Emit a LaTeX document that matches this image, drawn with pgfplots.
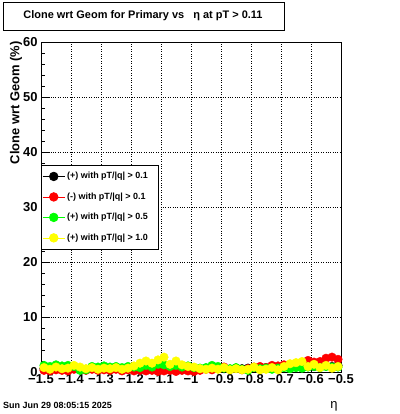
\documentclass[border=0pt]{standalone}
\usepackage{fontspec}
\setmainfont{Liberation Sans}
\usepackage{pgfplots}
\usepackage{pgfplotstable}
\pgfplotsset{compat=1.18}
\pgfplotstableread{
x black red green yellow
-1.49 0.6 0.3 1.2 0.8
-1.47 0.5 0.2 1.0 0.5
-1.45 0.7 0.4 1.3 0.9
-1.43 0.6 0.3 1.1 0.6
-1.41 0.5 0.2 1.2 0.7
-1.39 0.7 0.5 1.0 1.2
-1.37 0.6 0.4 0.3 0.9
-1.35 0.5 0.3 0.4 0.6
-1.33 0.7 0.5 1.0 0.8
-1.31 0.6 0.3 0.9 0.5
-1.29 0.8 0.4 1.1 0.7
-1.27 0.6 0.3 0.9 0.6
-1.25 0.7 0.5 1.0 0.8
-1.23 0.5 0.2 0.8 0.5
-1.21 0.6 0.4 1.0 0.7
-1.19 0.7 0.2 0.9 1.1
-1.17 0.6 0.3 0.8 1.6
-1.15 0.7 0.2 1.2 2.0
-1.13 0.6 0.3 0.9 1.6
-1.11 0.8 0.1 1.4 2.2
-1.09 0.7 0.2 1.3 2.7
-1.07 0.6 0.3 1.0 1.4
-1.05 0.7 0.1 1.2 2.0
-1.03 0.6 0.3 0.9 1.3
-1.01 0.8 0.2 1.1 1.0
-0.99 0.6 0.1 0.8 0.9
-0.97 0.5 0.3 0.7 0.6
-0.95 0.7 0.5 0.8 0.5
-0.93 0.6 0.4 1.2 0.7
-0.91 0.7 0.6 1.0 0.5
-0.89 0.6 0.9 0.7 0.8
-0.87 0.5 0.5 0.6 0.4
-0.85 0.7 0.7 0.8 0.6
-0.83 0.6 0.4 0.5 0.4
-0.81 0.7 0.6 0.3 0.5
-0.79 0.8 0.9 0.8 0.9
-0.77 0.7 1.0 0.6 0.4
-0.75 0.8 0.8 0.7 0.5
-0.73 0.9 1.2 0.5 0.8
-0.71 0.8 1.1 0.7 0.4
-0.69 0.9 1.3 0.8 1.0
-0.67 1.0 1.2 0.6 1.5
-0.65 0.9 1.4 0.8 1.7
-0.63 1.0 1.6 0.7 1.9
-0.61 1.1 2.1 0.9 1.0
-0.59 1.0 1.8 1.0 1.4
-0.57 1.2 1.9 0.8 0.8
-0.55 1.1 2.5 1.0 1.2
-0.53 1.0 2.7 0.9 0.7
-0.51 1.2 2.3 0.9 1.0
}\datatable
\definecolor{rgreen}{RGB}{0,255,0}
\definecolor{ryellow}{RGB}{255,255,0}
\definecolor{rred}{RGB}{255,0,0}
\begin{document}
\begin{tikzpicture}
\path[use as bounding box, fill=white] (0,0) rectangle (400bp,414bp);
\begin{axis}[
  at={(41bp,42bp)}, anchor=south west,
  width=300bp, height=330bp, scale only axis,
  xmin=-1.5, xmax=-0.5, ymin=0, ymax=60,
  clip=false,
  xtick={-1.5,-1.4,-1.3,-1.2,-1.1,-1.0,-0.9,-0.8,-0.7,-0.6,-0.5},
  xticklabels={−1.5,−1.4,−1.3,−1.2,−1.1,−1,−0.9,−0.8,−0.7,−0.6,−0.5},
  ytick={0,10,20,30,40,50,60},
  minor y tick num=4,
  tick pos=left,
  tick align=inside,
  major tick length=9bp, minor tick length=4.5bp,
  grid=major,
  major grid style={black, dotted, line width=0.75pt},
  axis line style={line width=0.75pt},
  every tick/.style={black, line width=0.75pt},
  /pgf/number format/assume math mode=true,
  tick label style={font=\bfseries\fontsize{13}{13}\selectfont},
  xticklabel style={yshift=1bp},
  legend style={at={(0,0.627)}, anchor=north west, draw=black, line width=0.75pt,
    fill=white, font=\bfseries\fontsize{9}{10}\selectfont, row sep=8.5bp,
    inner xsep=1bp, inner ysep=5bp},
  legend cell align=left,
  legend image code/.code={%
    \draw[solid, line width=0.75pt] (0bp,0bp) -- (22bp,0bp);
    \draw[mark repeat=2, mark phase=2] plot coordinates {(0bp,0bp) (11bp,0bp) (22bp,0bp)};},
]
\addplot[only marks, mark=*, color=black, mark size=4.3bp] table[x=x,y=black] {\datatable};
\addlegendentry{\makebox[88bp][l]{(+) with pT/|q| > 0.1}}
\addplot[only marks, mark=*, color=rred, mark size=4.3bp] table[x=x,y=red] {\datatable};
\addlegendentry{\makebox[88bp][l]{(-) with pT/|q| > 0.1}}
\addplot[only marks, mark=*, color=rgreen, mark size=4.3bp] table[x=x,y=green] {\datatable};
\addlegendentry{\makebox[88bp][l]{(+) with pT/|q| > 0.5}}
\addplot[only marks, mark=*, color=ryellow, mark size=4.3bp] table[x=x,y=yellow] {\datatable};
\addlegendentry{\makebox[88bp][l]{(+) with pT/|q| > 1.0}}
\end{axis}
\draw[line width=0.75pt] (3bp,384bp) rectangle (284bp,412bp);
\node[font=\bfseries\fontsize{11}{13}\selectfont] at (143bp,398bp) {Clone wrt Geom for Primary vs \ \ η at pT > 0.11};
\node[rotate=90, anchor=east, inner sep=0pt, font=\bfseries\fontsize{13}{15}\selectfont] at (16bp,373bp) {Clone wrt Geom (\%)};
\node[anchor=west, inner sep=0pt, font=\bfseries\fontsize{9}{10}\selectfont] at (3bp,9bp) {Sun Jun 29 08:05:15 2025};
\node[font=\fontsize{13}{15}\selectfont] at (334bp,8bp) {η};
\end{tikzpicture}
\end{document}
